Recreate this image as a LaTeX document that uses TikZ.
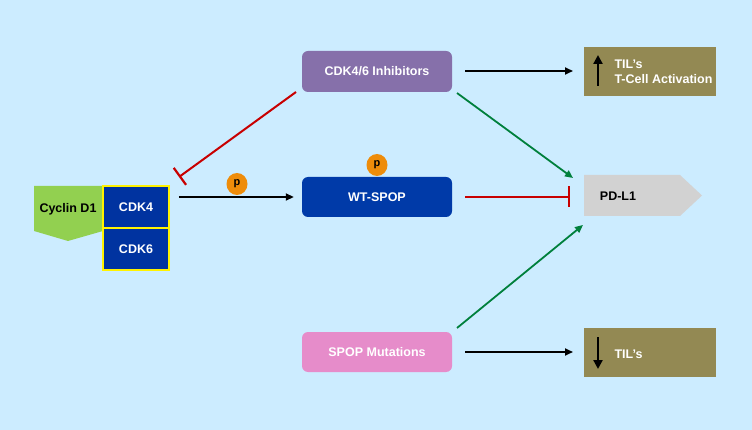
\documentclass[tikz,border=0pt]{standalone}
\usepackage{fontspec}
\setmainfont{Liberation Sans}
\usetikzlibrary{arrows.meta,shapes.geometric}
\definecolor{bg}{RGB}{204,236,255}
\definecolor{cycgreen}{RGB}{146,208,80}
\definecolor{cdkblue}{RGB}{0,51,160}
\definecolor{spopblue}{RGB}{0,58,168}
\definecolor{inhpurple}{RGB}{134,112,170}
\definecolor{mutpink}{RGB}{230,140,202}
\definecolor{olive}{RGB}{147,137,83}
\definecolor{pdgrey}{RGB}{210,210,210}
\definecolor{porange}{RGB}{238,140,10}
\definecolor{inhred}{RGB}{200,0,0}
\definecolor{actgreen}{RGB}{0,128,60}
\tikzset{
  lbl/.style={font=\fontsize{12.5}{14.5}\selectfont\bfseries},
  rbox/.style={rounded corners=6pt, minimum width=150pt, minimum height=41pt, inner sep=0pt, lbl, text=white},
  cdkbox/.style={draw=yellow, line width=1.5pt, fill=cdkblue, minimum width=66pt, minimum height=42pt, inner sep=0pt, lbl, text=white},
  tilbox/.style={fill=olive, minimum width=132pt, minimum height=49pt, inner sep=0pt},
  pcirc/.style={ellipse, fill=porange, minimum width=21pt, minimum height=22pt, inner sep=0pt, font=\fontsize{11}{12}\selectfont\bfseries},
  blk/.style={line width=1.8pt, -{Triangle[length=8pt,width=7pt]}},
  bigarr/.style={line width=2.8pt, -{Triangle[length=9pt,width=9pt]}},
  grn/.style={actgreen, line width=1.8pt, -{Triangle[length=8pt,width=7pt]}},
  inh/.style={inhred, line width=2pt, -{Bar[width=21pt,line width=2.2pt]}},
}
\begin{document}
\begin{tikzpicture}[x=1pt,y=-1pt]
\fill[bg] (0,0) rectangle (752,430);
\useasboundingbox (0,0) rectangle (752,430);
% Cyclin D1
\fill[cycgreen] (34,186) -- (103,186) -- (103,231) -- (68,241) -- (34,231) -- cycle;
\node[lbl] (cyc) at (68,209) {Cyclin D1};
\node[cdkbox] (cdk4) at (136,207) {CDK4};
\node[cdkbox] (cdk6) at (136,249) {CDK6};
% main boxes
\node[rbox, fill=inhpurple] (inhib) at (377,71.5) {CDK4/6 Inhibitors};
\node[rbox, fill=spopblue, minimum height=40pt] (wt) at (377,197) {WT-SPOP};
\node[rbox, fill=mutpink, minimum height=40pt] (mut) at (377,352) {SPOP Mutations};
% p circles
\node[pcirc] (p1) at (237,184) {p};
\node[pcirc] (p2) at (377,165) {p};
% TIL boxes
\node[tilbox] (tiltop) at (650,71.5) {};
\node[lbl, text=white, anchor=west, align=left] (tiltxt) at (611,72) {TIL's\\T-Cell Activation};
\coordinate (upA) at (598,86);
\coordinate (upB) at (598,55);
\draw[bigarr] (upA) -- (upB);
\node[tilbox] (tilbot) at (650,352.5) {};
\node[lbl, text=white, anchor=west] (tilbtxt) at (611,354) {TIL's};
\coordinate (dnA) at (598,337);
\coordinate (dnB) at (598,369);
\draw[bigarr] (dnA) -- (dnB);
% PD-L1
\fill[pdgrey] (584,175) -- (680,175) -- (702,195.5) -- (680,216) -- (584,216) -- cycle;
\node[lbl] (pdl1) at (618,196) {PD-L1};
% connectors
\draw[blk, shorten <=9pt, shorten >=8pt] (cdk4.east |- wt.west) -- (wt.west);
\coordinate (r1a) at (296,92);
\coordinate (r1b) at (179,177);
\draw[inh] (r1a) -- (r1b);
\coordinate (r2a) at (465,197);
\coordinate (r2b) at (570,197);
\draw[inh] (r2a) -- (r2b);
\coordinate (g1a) at (457,93);
\coordinate (g1b) at (573,178);
\draw[grn] (g1a) -- (g1b);
\coordinate (g2a) at (457,328);
\coordinate (g2b) at (583,225);
\draw[grn] (g2a) -- (g2b);
\coordinate (b1a) at (465,71);
\coordinate (b1b) at (573,71);
\draw[blk] (b1a) -- (b1b);
\coordinate (b2a) at (465,352);
\coordinate (b2b) at (573,352);
\draw[blk] (b2a) -- (b2b);
\end{tikzpicture}
\end{document}
